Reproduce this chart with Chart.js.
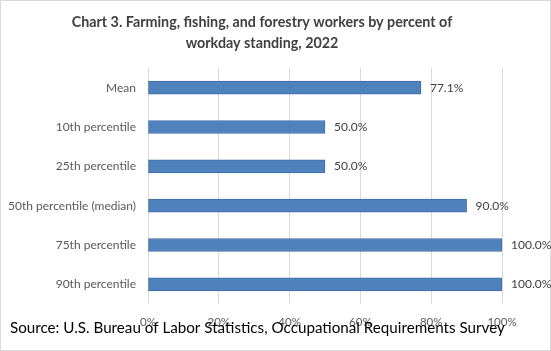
<!DOCTYPE html>
<html>
<head>
<meta charset="utf-8">
<script src="https://cdn.jsdelivr.net/npm/chart.js@4"></script>
<style>
  html, body { margin: 0; padding: 0; background: #fff; }
  #wrap { width: 551px; height: 351px; position: relative; }
</style>
</head>
<body>
<div id="wrap"><canvas id="chart" width="551" height="351"></canvas></div>
<script>
// Chart 3 data
const categories = ['Mean', '10th percentile', '25th percentile', '50th percentile (median)', '75th percentile', '90th percentile'];
const percentStanding = [77.1, 50.0, 50.0, 90.0, 100.0, 100.0];
const xTicks = [0, 20, 40, 60, 80, 100];

const titleLines = ['Chart 3. Farming, fishing, and forestry workers by percent of', 'workday standing, 2022'];
const sourceText = 'Source: U.S. Bureau of Labor Statistics, Occupational Requirements Survey';

const FONT = 'Lato, "Open Sans", sans-serif';

// background, border, title, value labels and source line
const decorPlugin = {
    id: 'decor',
    beforeDraw(chart) {
        const c = chart.ctx;
        c.save();
        c.fillStyle = '#fff';
        c.fillRect(0, 0, chart.width, chart.height);
        c.strokeStyle = '#d9d9d9';
        c.lineWidth = 1;
        c.strokeRect(0.5, 0.5, chart.width - 1, chart.height - 1);
        c.restore();
    },
    afterDraw(chart) {
        const c = chart.ctx;
        c.save();
        c.fillStyle = '#404040';
        c.font = 'bold 14.3px ' + FONT;
        c.textAlign = 'center';
        c.textBaseline = 'middle';
        c.fillText(titleLines[0], 262, 22);
        c.fillText(titleLines[1], 262, 43);

        const meta = chart.getDatasetMeta(0);
        c.font = '12px ' + FONT;
        c.textAlign = 'left';
        c.fillStyle = '#404040';
        meta.data.forEach((bar, i) => {
            c.fillText(percentStanding[i].toFixed(1) + '%', bar.x + 9, bar.y);
        });

        c.fillStyle = '#000';
        c.font = '15.2px ' + FONT;
        c.textAlign = 'left';
        c.fillText(sourceText, 10, 328);
        c.restore();
    }
};

new Chart(document.getElementById('chart'), {
    type: 'bar',
    data: {
        labels: categories,
        datasets: [{
            data: percentStanding,
            backgroundColor: '#4f81bd',
            borderColor: '#3d6da6',
            borderWidth: 1,
            borderSkipped: false,
            barThickness: 13
        }]
    },
    options: {
        indexAxis: 'y',
        responsive: false,
        animation: false,
        devicePixelRatio: 1,
        layout: { padding: { left: 0, right: 49, top: 68, bottom: 17 } },
        plugins: {
            legend: { display: false },
            title: { display: false },
            tooltip: { enabled: false }
        },
        scales: {
            x: {
                min: 0,
                max: 100,
                afterBuildTicks: (scale) => { scale.ticks = xTicks.map(v => ({ value: v })); },
                afterFit: (scale) => { scale.height = 30; },
                grid: { color: '#d9d9d9', drawTicks: false },
                border: { display: false },
                ticks: {
                    padding: 11,
                    color: '#595959',
                    font: { family: FONT, size: 11.5 },
                    callback: (v) => v + '%'
                }
            },
            y: {
                afterFit: (scale) => { scale.width = 148; },
                grid: { display: false, drawTicks: false },
                border: { display: false },
                ticks: {
                    padding: 12,
                    color: '#595959',
                    font: { family: FONT, size: 12 }
                }
            }
        }
    },
    plugins: [decorPlugin]
});
</script>
</body>
</html>
